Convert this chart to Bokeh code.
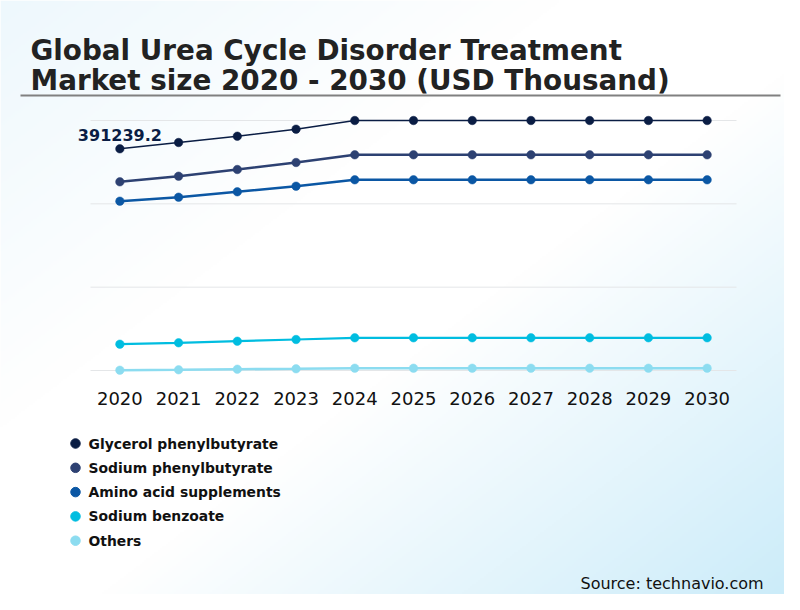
import numpy as np
from bokeh.plotting import figure
from bokeh.models import Range1d
from bokeh.core.properties import value
from bokeh.embed import file_html
from bokeh.resources import INLINE

# ---------------- data ----------------
years = [2020, 2021, 2022, 2023, 2024, 2025, 2026, 2027, 2028, 2029, 2030]
year_labels = ["2020", "2021", "2022", "2023", "2024", "2025", "2026", "2027", "2028", "2029", "2030"]

glycerol_phenylbutyrate = [391239.2, 402350, 413470, 425820, 441180, 441180, 441180, 441180, 441180, 441180, 441180]
sodium_phenylbutyrate = [333000, 342880, 354700, 367060, 380640, 380640, 380640, 380640, 380640, 380640, 380640]
amino_acid_supplements = [298760, 305820, 315350, 325230, 336530, 336530, 336530, 336530, 336530, 336530, 336530]
sodium_benzoate = [46410, 48880, 51710, 54700, 57710, 57710, 57710, 57710, 57710, 57710, 57710]
others = [500, 1240, 2290, 3000, 4060, 4060, 4060, 4060, 4060, 4060, 4060]

series_names = ["Glycerol phenylbutyrate", "Sodium phenylbutyrate", "Amino acid supplements",
                "Sodium benzoate", "Others"]
series_values = [glycerol_phenylbutyrate, sodium_phenylbutyrate, amino_acid_supplements,
                 sodium_benzoate, others]
y_ticks = [0, 147060, 294120, 441180]
data_label = "391239.2"

title_lines = ["Global Urea Cycle Disorder Treatment", "Market size 2020 - 2030 (USD Thousand)"]
source_text = "Source: technavio.com"

# ---------------- styles ----------------
colors = ["#0a1d44", "#2d4172", "#0b57a4", "#00bde0", "#8cdcf0"]
line_widths = [1.6, 2.6, 2.6, 2.2, 2.6]
FONT = value("DejaVu Sans")

W, H = 784, 594
# picture-coordinate helpers
def X(px):
    return px
def Y(py):
    return H - py

# data area in picture pixels
PX0, PX1 = 90, 736      # x extent of gridlines (year -0.5 .. +0.5)
PY0, PY1 = 370, 120     # y of 0 and of top tick

p = figure(width=W, height=H, output_backend="svg", toolbar_location=None,
           x_range=Range1d(0, W), y_range=Range1d(0, H),
           x_axis_location=None, y_axis_location=None, min_border=0,
           outline_line_color=None, border_fill_color="white",
           background_fill_color="white")
p.grid.visible = False

# extra ranges for data
ppy = (PX1 - PX0) / (len(years))
x_start = years[0] - 0.5 - PX0 / ppy
x_end = years[-1] + 0.5 + (W - PX1) / ppy
per_px = y_ticks[-1] / (PY0 - PY1)
y_start = y_ticks[0] - (H - PY0) * per_px
y_end = y_ticks[-1] + PY1 * per_px
p.extra_x_ranges = {"dx": Range1d(x_start, x_end)}
p.extra_y_ranges = {"dy": Range1d(y_start, y_end)}

# ---------------- background gradient ----------------
GW, GH = 392, 297
cols = np.arange(GW)
rows = np.arange(GH)
pxs = (cols + 0.5) * W / GW
pys = H - (rows + 0.5) * H / GH
PXg, PYg = np.meshgrid(pxs, pys)
t = (PXg / 800 + PYg / 610) / 2
c0 = np.array([238, 248, 253], dtype=float)
c1 = np.array([201, 235, 249], dtype=float)
white = np.array([255, 255, 255], dtype=float)
a = np.clip(t / 0.35, 0, 1)[..., None]
b = np.clip((t - 0.55) / 0.45, 0, 1)[..., None]
rgb = c0 * (1 - a) + white * a
rgb = rgb * (1 - b) + c1 * b
img = np.empty((GH, GW), dtype=np.uint32)
view = img.view(dtype=np.uint8).reshape((GH, GW, 4))
view[..., :3] = rgb.astype(np.uint8)
view[..., 3] = 255
p.image_rgba(image=[img], x=0, y=0, dw=W, dh=H)

# ---------------- title ----------------
p.text(x=[X(30)], y=[Y(50)], text=[title_lines[0]], text_font=FONT, text_font_style="bold",
       text_font_size="27.8px", text_color="#222222", text_baseline="alphabetic")
p.text(x=[X(30)], y=[Y(80)], text=[title_lines[1]], text_font=FONT, text_font_style="bold",
       text_font_size="27.8px", text_color="#222222", text_baseline="alphabetic")
p.segment(x0=[X(20)], y0=[Y(95)], x1=[X(780)], y1=[Y(95)], line_color="#808080", line_width=2)

# ---------------- gridlines ----------------
p.segment(x0=[years[0] - 0.5] * len(y_ticks), x1=[years[-1] + 0.5] * len(y_ticks),
          y0=y_ticks, y1=y_ticks, line_color="#e4e6e8", line_width=1,
          x_range_name="dx", y_range_name="dy")

# ---------------- series ----------------
for vals, col, lw in zip(series_values[::-1], colors[::-1], line_widths[::-1]):
    p.line(x=years, y=vals, line_color=col, line_width=lw, x_range_name="dx", y_range_name="dy")
    p.scatter(x=years, y=vals, size=8.5, fill_color=col, line_color=col, line_width=0.5,
              x_range_name="dx", y_range_name="dy")

# data label on first point
p.text(x=[years[0]], y=[glycerol_phenylbutyrate[0]], text=[data_label], text_font=FONT,
       text_font_style="bold", text_font_size="16px", text_color=colors[0],
       text_align="center", text_baseline="bottom", y_offset=-8,
       x_range_name="dx", y_range_name="dy")

# year labels
p.text(x=years, y=[Y(398)] * len(years), text=year_labels, text_font=FONT,
       text_font_size="18px", text_color="#111111", text_align="center",
       text_baseline="middle", x_range_name="dx")

# ---------------- legend ----------------
leg_y = [Y(443 + i * 24.3) for i in range(len(series_names))]
p.scatter(x=[X(75)] * len(series_names), y=leg_y, size=9.5, fill_color=colors, line_color=colors)
p.text(x=[X(88)] * len(series_names), y=leg_y, text=series_names, text_font=FONT,
       text_font_style="bold", text_font_size="13.9px", text_color="#111111",
       text_baseline="middle")

# ---------------- source ----------------
p.text(x=[X(580)], y=[Y(583)], text=[source_text], text_font=FONT, text_font_size="16px",
       text_color="#111111", text_baseline="middle")

open("out.html", "w").write(file_html(p, INLINE))
